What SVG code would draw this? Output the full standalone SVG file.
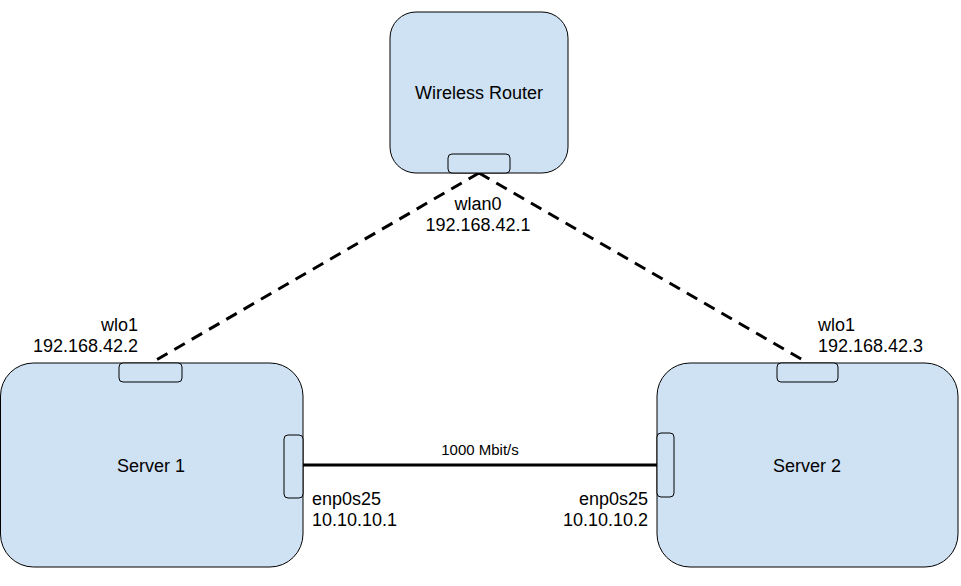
<svg xmlns="http://www.w3.org/2000/svg" width="961" height="586" viewBox="0 0 961 586">
<style>
.box{fill:#cfe2f3;stroke:#000;stroke-width:1}
.port{fill:#cfe2f3;stroke:#000;stroke-width:1}
text{font-family:"Liberation Sans",Arial,sans-serif;font-size:18px;fill:#000}
.c{text-anchor:middle}
.r{text-anchor:end}
.dash{stroke:#000;stroke-width:3;stroke-dasharray:12 8;fill:none}
.solid{stroke:#000;stroke-width:3;fill:none}
</style>
<rect width="961" height="586" fill="#fff"/>
<g id="connectors">
<line class="dash" x1="479" y1="173" x2="151" y2="363"/>
<line class="dash" x1="479" y1="173" x2="808" y2="363"/>
<line class="solid" x1="303" y1="465" x2="657" y2="465"/>
<text class="c" x="480" y="455" style="font-size:15px">1000 Mbit/s</text>
</g>
<g id="router">
<rect class="box" x="390" y="12" width="178" height="161" rx="26"/>
<text class="c" x="479" y="99">Wireless Router</text>
<rect class="port" x="448" y="154" width="62" height="19" rx="4"/>
<text class="c" x="478" y="210">wlan0</text>
<text class="c" x="478" y="231">192.168.42.1</text>
</g>
<g id="server1">
<rect class="box" x="0.5" y="363" width="302.5" height="204" rx="33"/>
<text class="c" x="151" y="472">Server 1</text>
<rect class="port" x="119" y="363" width="63" height="19" rx="4"/>
<rect class="port" x="284" y="435" width="19" height="63" rx="4"/>
<text class="r" x="138" y="331">wlo1</text>
<text class="r" x="138" y="352">192.168.42.2</text>
<text x="312" y="505">enp0s25</text>
<text x="312" y="526">10.10.10.1</text>
</g>
<g id="server2">
<rect class="box" x="657" y="363" width="301" height="204" rx="33"/>
<text class="c" x="807" y="472">Server 2</text>
<rect class="port" x="777" y="363" width="61" height="19" rx="4"/>
<rect class="port" x="657" y="433" width="17" height="64" rx="4"/>
<text x="818" y="331">wlo1</text>
<text x="818" y="352">192.168.42.3</text>
<text class="r" x="648" y="505">enp0s25</text>
<text class="r" x="648" y="526">10.10.10.2</text>
</g>
</svg>
